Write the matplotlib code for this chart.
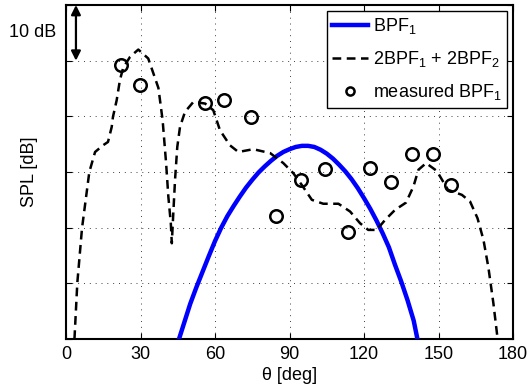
import numpy as np
import matplotlib
matplotlib.use('Agg')
import matplotlib.pyplot as plt

plt.rcParams['font.family'] = ['Liberation Sans', 'DejaVu Sans']
plt.rcParams['mathtext.fontset'] = 'custom'
plt.rcParams['mathtext.rm'] = 'Liberation Sans'
plt.rcParams['mathtext.it'] = 'Liberation Sans:italic'

# BPF1 prediction (blue)
bpf_theta = [45.5, 48, 50, 52.5, 55, 57.5, 60, 62.5, 65, 67.5, 70, 72.5, 75, 77.5,
             80, 82.5, 85, 87.5, 90, 92.5, 95, 97.5, 100, 102.5, 105, 107.5, 110,
             112.5, 115, 117.5, 120, 122.5, 125, 127.5, 130, 132.5, 135, 137.5, 140, 141.5]
bpf_spl = [0, 3.5, 6.3, 9.3, 12.1, 14.9, 17.6, 20.0, 22.1, 23.9, 25.6, 27.2, 28.6, 29.9,
           31.0, 32.0, 32.9, 33.6, 34.1, 34.5, 34.7, 34.7, 34.5, 34.0, 33.3, 32.4, 31.3,
           30.1, 28.7, 27.1, 25.3, 23.4, 21.3, 19.0, 16.5, 13.3, 10.3, 7.0, 3.3, 0]

# 2BPF1 + 2BPF2 prediction (dashed)
sum_theta = [3.4, 4.55, 6.44, 9.38, 11.7, 14.9, 16.9, 18.4, 18.9, 20.4, 21.7, 23.0, 25.8,
             29.1, 33.1, 35.2, 37.2, 38.9, 40.3, 41.2, 42.2, 42.6, 43.2, 43.9, 44.8, 45.9,
             47.9, 51.3, 56.0, 59.3, 62.0, 66.0, 69.4, 75.4, 82.2, 87.5, 91.5, 94.9, 99.0,
             103.6, 109.7, 114.4, 118.4, 121.7, 125.1, 128.5, 132.5, 136.9, 139.9, 141.9,
             145.0, 149.3, 153.8, 159.4, 162.7, 165.7, 168.1, 170.1, 172.1, 173.8]
sum_spl = [0, 10.1, 19.9, 30.0, 33.6, 34.8, 35.4, 38.1, 39.9, 42.9, 46.5, 48.7, 50.7,
           52.0, 50.4, 47.7, 45.1, 39.3, 31.6, 25.6, 20.8, 17.2, 22.6, 28.6, 34.5, 38.1,
           40.8, 42.6, 42.3, 41.1, 37.5, 34.8, 33.6, 34.1, 33.4, 31.6, 29.8, 27.7, 25.0,
           24.3, 24.3, 22.9, 20.8, 19.6, 19.6, 21.4, 23.2, 24.5, 27.4, 30.4,
           31.6, 30.2, 26.8, 25.9, 24.7, 21.7, 17.8, 12.8, 6.4, 0]

# measured BPF1
meas_theta = [22.1, 29.8, 56.0, 63.6, 74.5, 84.6, 94.6, 104.3, 113.6, 122.4, 130.9,
              139.3, 147.8, 155.1]
meas_spl = [49.2, 45.6, 42.4, 42.9, 39.9, 22.1, 28.6, 30.5, 19.2, 30.7, 28.2,
            33.2, 33.2, 27.7]

xticks = [0, 30, 60, 90, 120, 150, 180]
yticks = [0, 10, 20, 30, 40, 50, 60]

fig = plt.figure(figsize=(5.29, 3.89), dpi=100)
ax = fig.add_axes([0.1248, 0.1285, 0.845, 0.8586])

ax.plot(bpf_theta, bpf_spl, color=(0, 0, 1), lw=3.2, label='BPF$_1$', zorder=3)
ax.plot(sum_theta, sum_spl, color='k', lw=1.8, linestyle=(0, (3.5, 2.2)),
        label='2BPF$_1$ + 2BPF$_2$', zorder=3)
ax.plot(meas_theta, meas_spl, 'o', ms=9, mfc='none', mec='k', mew=1.8,
        label='measured BPF$_1$', zorder=4)

ax.set_xlim(0, 180)
ax.set_ylim(0, 60)
ax.set_xticks(xticks)
ax.set_yticks(yticks)
ax.set_yticklabels([])
ax.tick_params(direction='in', top=True, right=True, length=4, width=0.8,
               labelsize=13, pad=5)
ax.grid(True, linestyle=(0, (1, 5)), color='0.25', lw=0.7)
for s in ax.spines.values():
    s.set_linewidth(1.5)

ax.set_xlabel('θ [deg]', fontsize=13, labelpad=3)
ax.set_ylabel('SPL [dB]', fontsize=13, labelpad=15)

# 10 dB scale arrow
ax.annotate('', xy=(4, 60), xytext=(4, 50), annotation_clip=False,
            arrowprops=dict(arrowstyle='<|-|>', color='k', lw=1.6,
                            shrinkA=0, shrinkB=0, mutation_scale=14))
ax.text(-4, 55, '10 dB', ha='right', va='center', fontsize=13)

leg = ax.legend(loc='upper right', bbox_to_anchor=(0.9866, 0.982), borderaxespad=0,
                fontsize=13, fancybox=False, framealpha=1, edgecolor='k',
                handlelength=1.95, handletextpad=0.3, borderpad=0.3,
                markerscale=0.65, labelspacing=0.72)
leg.get_frame().set_linewidth(1.0)

fig.savefig('out.png', dpi=100)
